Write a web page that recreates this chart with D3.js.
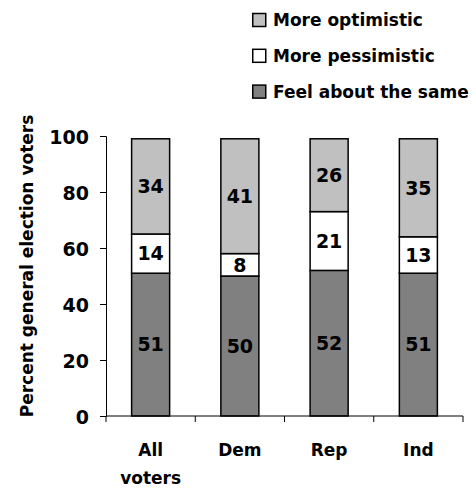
<!DOCTYPE html>
<html>
<head>
<meta charset="utf-8">
<script src="https://cdn.jsdelivr.net/npm/d3@7"></script>
<style>
  html, body { margin: 0; padding: 0; background: #fff; }
  svg text { font-family: "DejaVu Sans", "Liberation Sans", Arial, sans-serif; font-weight: bold; fill: #000; }
</style>
</head>
<body>
<svg id="chart" width="476" height="489"></svg>
<script>
// Survey groups and their stacked shares
const categories = ["All voters", "Dem", "Rep", "Ind"];
const sameValues = [51, 50, 52, 51];
const pessimisticValues = [14, 8, 21, 13];
const optimisticValues = [34, 41, 26, 35];
const seriesNames = ["Feel about the same", "More pessimistic", "More optimistic"];
const seriesColors = ["#808080", "#ffffff", "#c0c0c0"];
const yTicks = [0, 20, 40, 60, 80, 100];

const rows = categories.map((c, i) => ({
  category: c,
  "Feel about the same": sameValues[i],
  "More pessimistic": pessimisticValues[i],
  "More optimistic": optimisticValues[i]
}));

const FONT = "DejaVu Sans, Liberation Sans, Arial, sans-serif";
const svg = d3.select("#chart");
const plotLeft = 106, plotRight = 463, plotTop = 136, plotBottom = 416;

const x = d3.scaleBand().domain(categories).range([plotLeft, plotRight])
  .paddingInner(0.574).paddingOuter(0.287);
const y = d3.scaleLinear().domain([0, 100]).range([plotBottom, plotTop]);

const stack = d3.stack().keys(seriesNames)(rows);

// Stacked bars
const layers = svg.append("g").selectAll("g").data(stack).join("g")
  .attr("fill", (d, i) => seriesColors[i]);

layers.selectAll("rect").data(d => d).join("rect")
  .attr("x", d => x(d.data.category))
  .attr("width", x.bandwidth())
  .attr("y", d => y(d[1]))
  .attr("height", d => y(d[0]) - y(d[1]))
  .attr("stroke", "#000")
  .attr("stroke-width", 1.5);

// Value labels in the middle of each segment
const labelLayer = svg.append("g");
stack.forEach(layer => {
  labelLayer.append("g").selectAll("text").data(layer).join("text")
    .attr("x", d => x(d.data.category) + x.bandwidth() / 2)
    .attr("y", d => y((d[0] + d[1]) / 2))
    .attr("dy", "0.36em")
    .attr("text-anchor", "middle")
    .attr("font-size", 19)
    .text(d => d.data[layer.key]);
});

// Y axis
const yAxis = svg.append("g").attr("transform", `translate(${plotLeft},0)`)
  .call(d3.axisLeft(y).tickValues(yTicks).tickSize(6).tickPadding(11));
yAxis.select(".domain").attr("stroke", "#000");
yAxis.selectAll(".tick line").attr("stroke", "#000");
yAxis.selectAll("text").attr("font-size", 19)
  .attr("font-family", FONT).attr("font-weight", "bold").attr("dy", "0.38em");

// X axis with ticks at the band boundaries
const xAxisG = svg.append("g");
xAxisG.append("line").attr("x1", plotLeft).attr("x2", plotRight)
  .attr("y1", plotBottom).attr("y2", plotBottom).attr("stroke", "#000");
const bounds = categories.map(c => x(c) - (x.step() - x.bandwidth()) / 2);
bounds.push(plotRight);
xAxisG.selectAll("line.tick").data(bounds).join("line").attr("class", "tick")
  .attr("x1", d => d).attr("x2", d => d)
  .attr("y1", plotBottom).attr("y2", plotBottom + 6).attr("stroke", "#000");

xAxisG.selectAll("text").data(categories).join("text")
  .attr("y", 456)
  .attr("text-anchor", "middle")
  .attr("font-size", 17)
  .each(function (d) {
    const parts = d === "All voters" ? ["All", "voters"] : [d];
    d3.select(this).selectAll("tspan").data(parts).join("tspan")
      .attr("x", x(d) + x.bandwidth() / 2)
      .attr("dy", (p, i) => i === 0 ? 0 : 28)
      .text(p => p);
  });

// Y axis title
svg.append("text")
  .attr("transform", "translate(33,266) rotate(-90)")
  .attr("text-anchor", "middle")
  .attr("font-size", 17)
  .text("Percent general election voters");

// Legend
const legendOrder = [2, 1, 0];
const legend = svg.append("g").selectAll("g").data(legendOrder).join("g")
  .attr("transform", (d, i) => `translate(252,${20 + i * 35.8})`);
legend.append("rect").attr("x", 0.75).attr("y", -6.5).attr("width", 13).attr("height", 13)
  .attr("fill", d => seriesColors[d]).attr("stroke", "#000").attr("stroke-width", 1.5);
legend.append("text").attr("x", 21).attr("dy", "0.36em").attr("font-size", 17)
  .text(d => seriesNames[d]);
</script>
</body>
</html>
